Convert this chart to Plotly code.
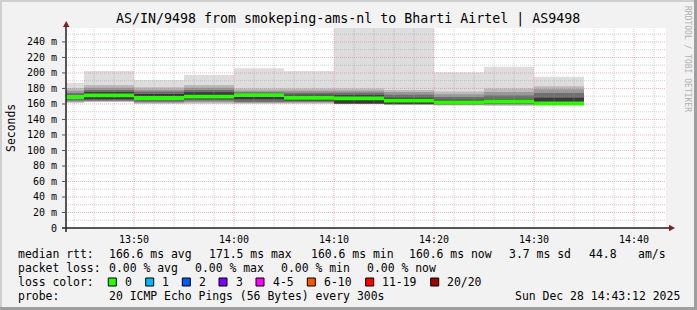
import plotly.graph_objects as go
import pandas as pd

# ---------------- data ----------------
block_start = ["2025-12-28 13:40", "2025-12-28 13:45", "2025-12-28 13:50", "2025-12-28 13:55",
               "2025-12-28 14:00", "2025-12-28 14:05", "2025-12-28 14:10", "2025-12-28 14:15",
               "2025-12-28 14:20", "2025-12-28 14:25", "2025-12-28 14:30"]
step_seconds = 300

# smoke envelope (ms), outer -> inner
smoke_max = [187.5, 202.6, 191.0, 197.4, 206.0, 202.6, 275.0, 275.0, 201.0, 208.0, 195.0]
band2_hi  = [180.3, 184.5, 181.5, 184.5, 180.0, 180.0, 180.0, 178.0, 176.0, 180.0, 183.0]
band3_hi  = [177.0, 181.0, 178.5, 181.0, 177.0, 177.0, 177.0, 175.5, 172.5, 175.5, 179.0]
band4_hi  = [174.0, 178.0, 176.0, 178.0, 175.0, 174.5, 174.5, 172.0, 169.0, 171.0, 174.0]
band5_hi  = [171.5, 175.5, 173.0, 175.0, 173.5, 172.0, 171.5, 168.0, 165.5, 166.5, 168.0]
median    = [169.0, 171.0, 167.7, 169.4, 171.5, 168.0, 167.3, 164.3, 162.0, 163.2, 160.6]
band5_lo  = [166.5, 166.0, 165.0, 166.0, 166.0, 164.5, 160.5, 159.8, 160.0, 161.0, 159.5]
band4_lo  = [164.5, 164.5, 163.0, 164.5, 162.5, 163.0, 160.3, 159.6, 159.5, 160.0, 159.0]
band3_lo  = [163.0, 163.5, 161.5, 162.5, 161.5, 162.0, 160.1, 159.4, 159.0, 159.0, 158.8]
band2_lo  = [162.0, 163.0, 160.5, 161.0, 160.8, 161.0, 159.9, 159.2, 158.5, 158.0, 158.6]
smoke_min = [161.3, 162.5, 160.0, 160.0, 160.0, 160.0, 159.7, 159.0, 158.0, 157.4, 158.3]

y_tick_vals = [0, 20, 40, 60, 80, 100, 120, 140, 160, 180, 200, 220, 240]
y_tick_text = ["0", "20 m", "40 m", "60 m", "80 m", "100 m", "120 m", "140 m", "160 m",
               "180 m", "200 m", "220 m", "240 m"]
x_tick_vals = ["2025-12-28 13:50", "2025-12-28 14:00", "2025-12-28 14:10",
               "2025-12-28 14:20", "2025-12-28 14:30", "2025-12-28 14:40"]
x_tick_text = ["13:50", "14:00", "14:10", "14:20", "14:30", "14:40"]

title_text = "AS/IN/9498 from smokeping-ams-nl to Bharti Airtel | AS9498"
median_avg, median_max, median_min, median_now, median_sd, am_s = 166.6, 171.5, 160.6, 160.6, 3.7, 44.8
loss_avg, loss_max, loss_min, loss_now = 0.00, 0.00, 0.00, 0.00
loss_labels = ["0", "1", "2", "3", "4-5", "6-10", "11-19", "20/20"]
loss_colors = ["#26ff00", "#00b8ff", "#0059ff", "#7e00ff", "#ff00ff", "#ff5500", "#ff0000", "#a10000"]
probe_text = "20 ICMP Echo Pings (56 Bytes) every 300s"
stamp_text = "Sun Dec 28 14:43:12 2025"

# ---------------- layout geometry ----------------
W, H = 697, 310
L, R, T, B = 66, 666, 28, 228
Y_MAX = 258
X_START, X_END = "2025-12-28 13:43:12", "2025-12-28 14:43:12"
MONO = "DejaVu Sans Mono"
LEG = 11.45


def px(x):
    return (x - L) / (R - L)


def py(y):
    return (B - y) / (B - T)


centers = [pd.Timestamp(s) + pd.Timedelta(seconds=step_seconds / 2) for s in block_start]
width_ms = step_seconds * 1000

fig = go.Figure()

bands = [
    (smoke_min, smoke_max, "#dddddd"),
    (band2_lo, band2_hi, "#bbbbbb"),
    (band3_lo, band3_hi, "#999999"),
    (band4_lo, band4_hi, "#6e6e6e"),
    (band5_lo, band5_hi, "#3a3a3a"),
]
for lo, hi, col in bands:
    fig.add_trace(go.Bar(
        x=centers, y=[h - l for l, h in zip(lo, hi)], base=lo, width=width_ms,
        marker=dict(color=col, line=dict(width=0)), hoverinfo="skip", showlegend=False))

half = 1.9 * Y_MAX / (B - T)
fig.add_trace(go.Bar(
    x=centers, y=[2 * half] * len(median), base=[m - half for m in median], width=width_ms,
    marker=dict(color=loss_colors[0], line=dict(width=0)), hoverinfo="skip", showlegend=False))

MGRID = "rgba(225,80,80,0.42)"
GRID = "rgba(150,150,150,0.45)"
shapes = []
# grid on top of the smoke
for t in pd.date_range("2025-12-28 13:44", "2025-12-28 14:42", freq="2min"):
    major = t.minute % 10 == 0
    shapes.append(dict(type="line", xref="x", yref="paper", x0=t, x1=t, y0=0, y1=1, layer="above",
                       line=dict(color=MGRID if major else GRID, width=1, dash="1px,1px")))
for v in range(10, Y_MAX, 10):
    major = v % 20 == 0
    shapes.append(dict(type="line", xref="paper", yref="y", x0=0, x1=1, y0=v, y1=v, layer="above",
                       line=dict(color=MGRID if major else GRID, width=1, dash="1px,1px")))
# axes with arrows
shapes.append(dict(type="line", xref="paper", yref="paper", x0=px(62), x1=px(670), y0=0, y1=0,
                   layer="above", line=dict(color="#1f1f1f", width=1.5)))
shapes.append(dict(type="line", xref="paper", yref="paper", x0=0, x1=0, y0=py(232), y1=py(26),
                   layer="above", line=dict(color="#1f1f1f", width=1.5)))
for v in y_tick_vals:
    shapes.append(dict(type="line", xref="paper", yref="y", x0=px(62), x1=px(66), y0=v, y1=v,
                       layer="above", line=dict(color="#555555", width=1)))
shapes.append(dict(type="path", xref="paper", yref="paper",
                   path=f"M {px(63)} {py(27)} L {px(69.5)} {py(27)} L {px(66.2)} {py(21)} Z",
                   fillcolor="#801f1f", line=dict(width=0), layer="above"))
shapes.append(dict(type="path", xref="paper", yref="paper",
                   path=f"M {px(669)} {py(224.8)} L {px(669)} {py(231.2)} L {px(675)} {py(228)} Z",
                   fillcolor="#801f1f", line=dict(width=0), layer="above"))
# 3D frame
shapes.append(dict(type="rect", xref="paper", yref="paper", x0=px(0), x1=px(W), y0=py(0), y1=py(2),
                   fillcolor="#cfcfcf", line=dict(width=0)))
shapes.append(dict(type="rect", xref="paper", yref="paper", x0=px(0), x1=px(2), y0=py(0), y1=py(H),
                   fillcolor="#cfcfcf", line=dict(width=0)))
shapes.append(dict(type="rect", xref="paper", yref="paper", x0=px(W - 3), x1=px(W), y0=py(0), y1=py(H),
                   fillcolor="#9e9e9e", line=dict(width=0)))
shapes.append(dict(type="rect", xref="paper", yref="paper", x0=px(0), x1=px(W), y0=py(H - 3), y1=py(H),
                   fillcolor="#9e9e9e", line=dict(width=0)))

# legend colour boxes
box_x = [108.3, 145.7, 182.3, 219.0, 256.0, 307.3, 365.7, 430.7]
for bx, col in zip(box_x, loss_colors):
    shapes.append(dict(type="rect", xref="paper", yref="paper", x0=px(bx), x1=px(bx + 8),
                       y0=py(286), y1=py(278), fillcolor=col, line=dict(color="#000000", width=1)))

ann = []


def text(x, y, s, size=LEG, color="#000000", anchor="left", angle=0, family=MONO):
    ann.append(dict(x=px(x), y=py(y), xref="paper", yref="paper", text=s, showarrow=False,
                    xanchor=anchor, yanchor="middle", textangle=angle,
                    font=dict(family=family, size=size, color=color)))


text(348, 19, title_text, size=13.3, anchor="center")
text(11, 128, "Seconds", size=LEG, anchor="center", angle=-90)
text(688, 59, "RRDTOOL / TOBI OETIKER", size=8, color="#b0b0b0", anchor="center", angle=90)

y1, y2, y3, y4 = 254.3, 268, 282.3, 295.5
text(16, y1, "median rtt:")
text(107.3, y1, f"{median_avg:.1f} ms avg")
text(207.0, y1, f"{median_max:.1f} ms max")
text(308.5, y1, f"{median_min:.1f} ms min")
text(407.3, y1, f"{median_now:.1f} ms now")
text(506.7, y1, f"{median_sd:.1f} ms sd")
text(586.7, y1, f"{am_s:.1f}")
text(635.7, y1, "am/s")

text(16, y2, "packet loss:")
text(107.3, y2, f"{loss_avg:.2f} % avg")
text(193.3, y2, f"{loss_max:.2f} % max")
text(279.3, y2, f"{loss_min:.2f} % min")
text(365.0, y2, f"{loss_now:.2f} % now")

text(16, y3, "loss color:")
for bx, lab in zip(box_x, loss_labels):
    text(bx + 14.7, y3, lab)

text(16, y4, "probe:")
text(107.3, y4, probe_text)
text(513.3, y4, stamp_text)

fig.update_layout(
    width=W, height=H,
    margin=dict(l=L, r=W - R, t=T, b=H - B, pad=0),
    paper_bgcolor="#f2f2f2", plot_bgcolor="#ffffff",
    barmode="overlay", showlegend=False,
    shapes=shapes, annotations=ann,
    xaxis=dict(type="date", range=[X_START, X_END], showgrid=False, zeroline=False, showline=False,
               tickvals=x_tick_vals, ticktext=x_tick_text, ticks="outside", ticklen=2,
               tickcolor="rgba(0,0,0,0)",
               tickfont=dict(family=MONO, size=10, color="#000000"), fixedrange=True),
    yaxis=dict(range=[0, Y_MAX], showgrid=False, zeroline=False, showline=False,
               tickvals=y_tick_vals, ticktext=y_tick_text, ticks="outside", ticklen=6,
               tickcolor="rgba(0,0,0,0)",
               tickfont=dict(family=MONO, size=10, color="#000000"), fixedrange=True),
)

fig.write_html("out.html")
